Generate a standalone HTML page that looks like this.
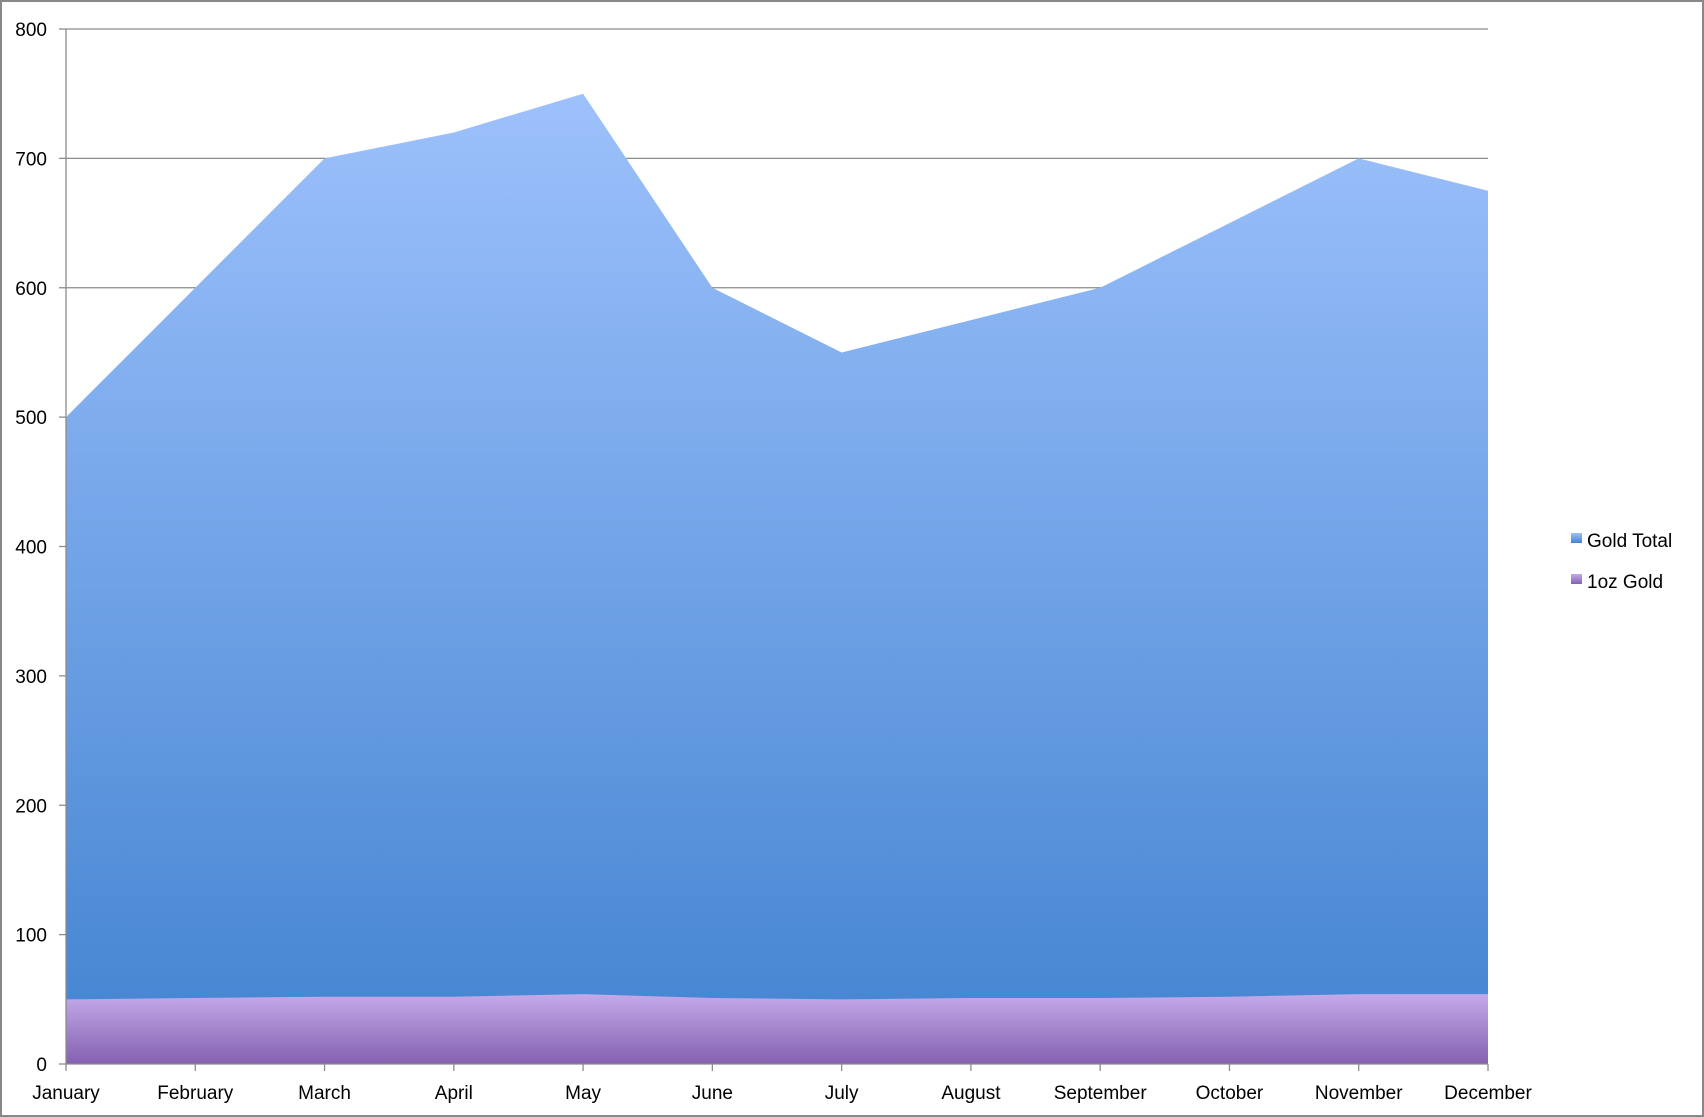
<!DOCTYPE html>
<html><head><meta charset="utf-8"><style>
html,body{margin:0;padding:0;background:#fff;}
svg{display:block;font-family:"Liberation Sans",sans-serif;}
</style></head><body>
<svg id="chart" width="1704" height="1117" viewBox="0 0 1704 1117">
<defs>
<linearGradient id="gBlue" x1="0" y1="0" x2="0" y2="1">
<stop offset="0" stop-color="#9dc1fc"/><stop offset="1" stop-color="#4283d0"/></linearGradient>
<linearGradient id="gPurple" x1="0" y1="0" x2="0" y2="1">
<stop offset="0" stop-color="#c4aaea"/><stop offset="1" stop-color="#8560b0"/></linearGradient>
</defs>
<rect x="1" y="1" width="1702" height="1115" fill="#fff" stroke="#888" stroke-width="2"/>
<g id="grid"></g>
<g id="areas"></g>
<g id="axes"></g>
<g>
<rect x="1571" y="533" width="11" height="10" fill="url(#gBlue)"/>
<text x="1587" y="547" font-size="19">Gold Total</text>
<rect x="1571" y="574" width="11" height="10" fill="url(#gPurple)"/>
<text x="1587" y="588" font-size="19">1oz Gold</text>
</g>
</svg>
<script>
const categories=["January","February","March","April","May","June","July","August","September","October","November","December"];
const goldTotal=[500,600,700,720,750,600,550,575,600,650,700,675];
const oneOzGold=[50,51,52,52,54,51,50,51,51,52,54,54];
const yTicks=[0,100,200,300,400,500,600,700,800];
const NS="http://www.w3.org/2000/svg";
const L=66,R=1488,T=29,B=1064,YMAX=800;
const x=i=>L+i*(R-L)/(categories.length-1);
const y=v=>B-v*(B-T)/YMAX;
function mk(tag,attrs,parent){const e=document.createElementNS(NS,tag);for(const k in attrs)e.setAttribute(k,attrs[k]);parent.appendChild(e);return e;}
const grid=document.getElementById('grid'),areas=document.getElementById('areas'),axes=document.getElementById('axes');
yTicks.forEach(t=>{
 if(t>0){const g=mk('line',{x1:L,x2:R,y1:y(t),y2:y(t),stroke:'#8c8c8c','stroke-width':1.3},grid);
 
 }
 const tk=mk('line',{x1:L-7,x2:L,y1:y(t),y2:y(t),stroke:'#8c8c8c','stroke-width':1.3},axes);
 
 
 const tx=mk('text',{x:L-19,y:y(t)+7,'font-size':19,'text-anchor':'end'},axes);tx.textContent=t;
 
 
});
function area(vals,fill,name){
 let d='M'+x(0)+','+B;vals.forEach((v,i)=>d+=' L'+x(i)+','+y(v));d+=' L'+x(vals.length-1)+','+B+' Z';
 const p=mk('path',{d:d,fill:fill},areas);
 
 
}
area(goldTotal,'url(#gBlue)','area-gold-total');
area(oneOzGold,'url(#gPurple)','area-1oz-gold');
const ya=mk('line',{x1:L,x2:L,y1:T,y2:B,stroke:'#8c8c8c','stroke-width':1.3},axes);


const xa=mk('line',{x1:L,x2:R,y1:B,y2:B,stroke:'#8c8c8c','stroke-width':1.3},axes);


categories.forEach((c,i)=>{
 const tk=mk('line',{x1:x(i),x2:x(i),y1:B,y2:B+7,stroke:'#8c8c8c','stroke-width':1.3},axes);
 
 
 const tx=mk('text',{x:x(i),y:B+35,'font-size':19,'text-anchor':'middle'},axes);tx.textContent=c;
 
 
});
</script>
</body></html>
